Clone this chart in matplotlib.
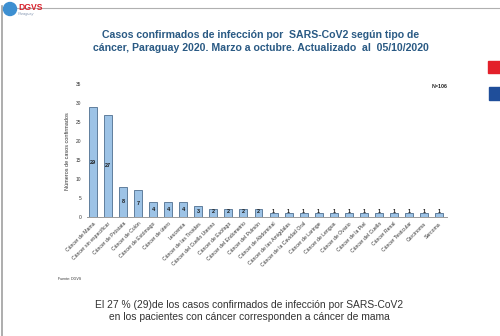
import matplotlib
matplotlib.use("Agg")
import matplotlib.pyplot as plt
from matplotlib.patches import Rectangle, Ellipse

plt.rcParams['font.family'] = ['Liberation Sans', 'DejaVu Sans']

tipos = ["Cáncer de Mama", "Cáncer sin especificar", "Cáncer de Próstata", "Cáncer de Colón",
         "Cáncer de Estómago", "Cáncer de útero", "Leucemia", "Cáncer de las Tiroides",
         "Cáncer del Cuello Uterino", "Cáncer de Esófago", "Cáncer del Endometrio",
         "Cáncer del Pulmón", "Cáncer de Abdominal", "Cáncer de las Amígdalas",
         "Cáncer de la Cavidad Oral", "Cáncer de Laringe", "Cáncer de Lengua",
         "Cáncer de Ovario", "Cáncer de la Piel", "Cáncer del Cuello", "Cáncer Renal",
         "Cáncer Testicular", "Carcinoma", "Sarcoma"]
casos = [29, 27, 8, 7, 4, 4, 4, 3, 2, 2, 2, 2, 1, 1, 1, 1, 1, 1, 1, 1, 1, 1, 1, 1]
yticks = [0, 5, 10, 15, 20, 25, 30, 35]

W, H = 500, 336
fig = plt.figure(figsize=(W/100, H/100), dpi=100)

# slide frame
fig.add_artist(plt.Line2D([2/W, 2/W], [0, 1-6/H], color='#a0a0a0', lw=1.2))
fig.add_artist(plt.Line2D([2/W, 1], [1-8/H, 1-8/H], color='#b0b0b0', lw=0.8))

# logo
fig.add_artist(Ellipse((10/W, 1-9/H), 13/W, 13/H, transform=fig.transFigure, color='#3d8fd1', zorder=5))
fig.text(18/W, 1-7/H, "DGVS", color='#d9232e', fontsize=6.2, weight='bold', va='center')
fig.text(18/W, 1-14/H, "Paraguay", color='#8a9bb5', fontsize=2.8, style='italic', va='center')

# colour squares at right edge
fig.add_artist(Rectangle((488/W, 1-73/H), 12/W, 12/H, transform=fig.transFigure, color='#e3202a'))
fig.add_artist(Rectangle((489/W, 1-100/H), 11/W, 13/H, transform=fig.transFigure, color='#1f4e9a'))

fig.text(261/W, 1-35/H, "Casos confirmados de infección por  SARS-CoV2 según tipo de",
         ha='center', va='center', fontsize=7.6, weight='bold', color='#2a5a84')
fig.text(261/W, 1-48/H, "cáncer, Paraguay 2020. Marzo a octubre. Actualizado  al  05/10/2020",
         ha='center', va='center', fontsize=7.6, weight='bold', color='#2a5a84')

ax = fig.add_axes([87/W, (H-217)/H, 360/W, (217-84.4)/H])
x = list(range(len(tipos)))
ax.bar(x, casos, width=0.53, color='#9dc3e6', edgecolor='#4f6f8f', linewidth=0.6)
for xi, v in zip(x, casos):
    ax.text(xi, max(v/2, 1.5), str(v), ha='center', va='center', fontsize=4, weight='bold', color='#1a1a1a')

ax.set_xlim(-0.4, 23.53)
ax.set_ylim(0, 35)
ax.set_yticks(yticks)
ax.tick_params(axis='y', labelsize=3.5, length=0, pad=4, labelcolor='#333333')
ax.set_xticks(x)
ax.set_xticklabels(tipos, rotation=45, ha='right', rotation_mode='anchor', fontsize=3.7, color='#333333')
ax.tick_params(axis='x', length=0, pad=3)
for s in ['top', 'right', 'left']:
    ax.spines[s].set_visible(False)
ax.spines['bottom'].set_color('#999999')
ax.spines['bottom'].set_linewidth(0.7)
ax.set_ylabel("Números de casos confirmados", fontsize=4, color='#333333', labelpad=4)

fig.text(440/W, 1-86/H, "N=106", ha='center', va='center', fontsize=3.8, weight='bold', color='#222222')
fig.text(58/W, 1-279/H, "Fuente: DGVS", ha='left', va='center', fontsize=2.6, color='#333333')

fig.text(249/W, 1-305/H, "El 27 % (29)de los casos confirmados de infección por SARS-CoV2",
         ha='center', va='center', fontsize=7.4, color='#333333')
fig.text(249/W, 1-317/H, "en los pacientes con cáncer corresponden a cáncer de mama",
         ha='center', va='center', fontsize=7.4, color='#333333')

fig.savefig("out.png", dpi=100)
